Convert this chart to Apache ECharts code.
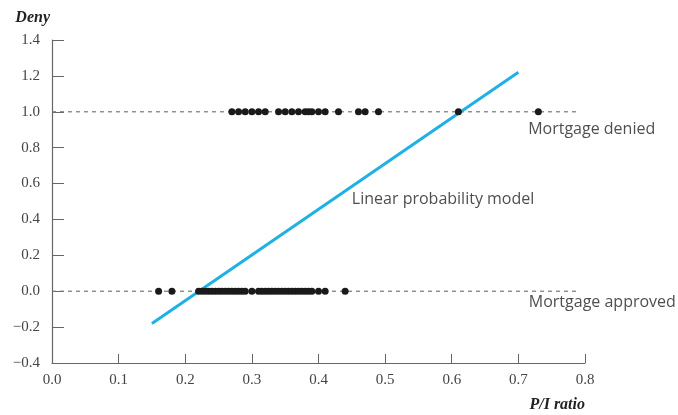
<!DOCTYPE html>
<html>
<head>
<meta charset="utf-8">
<script src="https://cdn.jsdelivr.net/npm/echarts@6/dist/echarts.min.js"></script>
<style>
html, body { margin: 0; padding: 0; background: #fff; }
#chart { width: 678px; height: 415px; }
</style>
</head>
<body>
<div id="chart"></div>
<script>
// P/I ratios of denied applications (deny = 1)
var deniedX = [0.27, 0.28, 0.29, 0.30, 0.31, 0.32, 0.34, 0.35, 0.36, 0.37, 0.38, 0.385, 0.39, 0.40, 0.41, 0.43, 0.46, 0.47, 0.49, 0.61, 0.73];
// P/I ratios of approved applications (deny = 0)
var approvedX = [0.16, 0.18, 0.22, 0.225, 0.23, 0.235, 0.24, 0.245, 0.25, 0.255, 0.26, 0.265, 0.27, 0.275, 0.28, 0.285, 0.29, 0.30,
	0.31, 0.315, 0.32, 0.325, 0.33, 0.335, 0.34, 0.345, 0.35, 0.355, 0.36, 0.365, 0.37, 0.375, 0.38, 0.385, 0.39, 0.40, 0.41, 0.44];
// fitted linear probability model, endpoints
var lpmLine = [[0.15, -0.18], [0.70, 1.22]];
var refLineEnd = 0.79;
var notes = [
	{ x: 0.587, y: 0.51, text: 'Linear probability model' },
	{ x: 0.81, y: 0.90, text: 'Mortgage denied' },
	{ x: 0.826, y: -0.065, text: 'Mortgage approved' }
];

var chart = echarts.init(document.getElementById('chart'));

function toPts(xs, y) {
	var out = [];
	for (var i = 0; i < xs.length; i++) out.push([xs[i], y]);
	return out;
}

var serif = '"Liberation Serif", "DejaVu Serif", serif';
var sans = '"Open Sans", "Noto Sans", sans-serif';

option = {
	animation: false,
	grid: { left: 52, right: 93, top: 40, bottom: 52 },
	xAxis: {
		type: 'value',
		min: 0, max: 0.8, interval: 0.1,
		name: 'P/I ratio',
		nameLocation: 'end',
		nameGap: 0,
		nameTextStyle: {
			fontFamily: serif, fontStyle: 'italic', fontWeight: 'bold', fontSize: 16, color: '#222',
			align: 'right', verticalAlign: 'top', padding: [34, 0, 0, 0]
		},
		axisLine: { onZero: false, lineStyle: { color: '#666', width: 1.2 } },
		axisTick: { inside: true, length: 9, lineStyle: { color: '#666' } },
		splitLine: { show: false },
		axisLabel: {
			fontFamily: serif, fontSize: 15, color: '#444', margin: 10,
			formatter: function(v) { return v.toFixed(1); }
		}
	},
	yAxis: {
		type: 'value',
		min: -0.4, max: 1.4, interval: 0.2,
		name: 'Deny',
		nameLocation: 'end',
		nameGap: 14,
		nameTextStyle: {
			fontFamily: serif, fontStyle: 'italic', fontWeight: 'bold', fontSize: 16, color: '#222',
			align: 'right', padding: [0, 2, 0, 0]
		},
		axisLine: { show: true, onZero: false, lineStyle: { color: '#666', width: 1.2 } },
		axisTick: { show: true, inside: true, length: 12, lineStyle: { color: '#666' } },
		splitLine: { show: false },
		axisLabel: {
			fontFamily: serif, fontSize: 15, color: '#444', margin: 12,
			formatter: function(v) { return v.toFixed(1).replace('-', '\u2212'); }
		}
	},
	series: [
		{
			type: 'line', data: [[0, 1], [refLineEnd, 1]], symbol: 'none', silent: true,
			lineStyle: { color: '#777', width: 1.2, type: [4, 4] }
		},
		{
			type: 'line', data: [[0, 0], [refLineEnd, 0]], symbol: 'none', silent: true,
			lineStyle: { color: '#777', width: 1.2, type: [4, 4] }
		},
		{
			type: 'line', data: lpmLine, symbol: 'none', z: 3,
			lineStyle: { color: '#1fb1e6', width: 3 }
		},
		{
			type: 'scatter', data: toPts(deniedX, 1), symbolSize: 7, z: 4,
			itemStyle: { color: '#1a1a1a', opacity: 1 }
		},
		{
			type: 'scatter', data: toPts(approvedX, 0), symbolSize: 7, z: 4,
			itemStyle: { color: '#1a1a1a', opacity: 1 }
		},
		{
			type: 'scatter', symbolSize: 0, silent: true, clip: false,
			data: notes.map(function(n) { return { value: [n.x, n.y], name: n.text }; }),
			label: {
				show: true, position: 'inside', align: 'center', verticalAlign: 'middle',
				fontFamily: sans, fontSize: 16, color: '#222',
				formatter: function(p) { return p.name; }
			}
		}
	]
};
chart.setOption(option);
</script>
</body>
</html>
